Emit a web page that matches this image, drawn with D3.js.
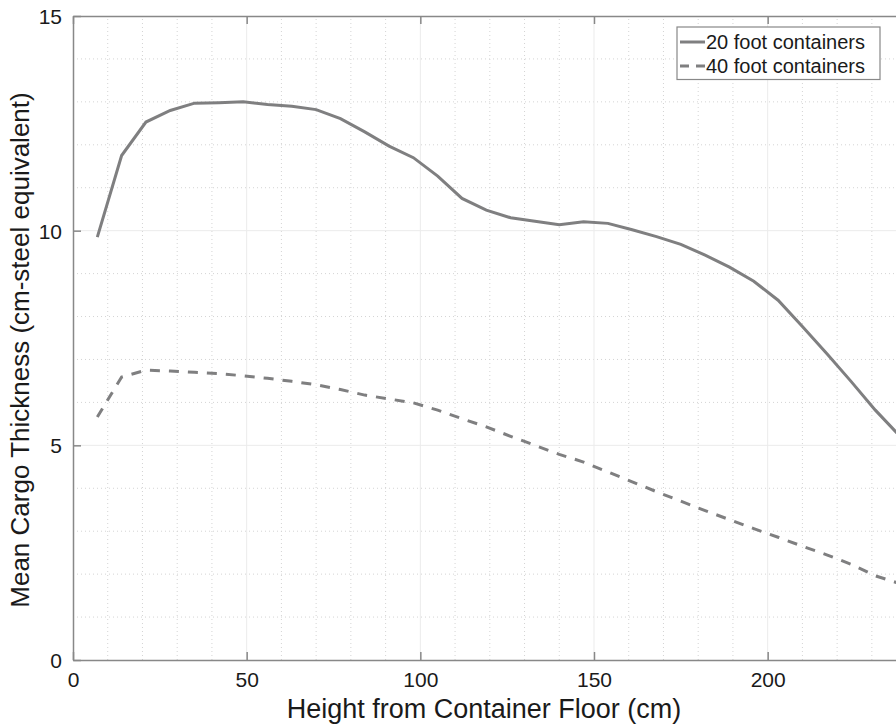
<!DOCTYPE html>
<html>
<head>
<meta charset="utf-8">
<script src="https://cdn.jsdelivr.net/npm/d3@7"></script>
<style>
  body { margin: 0; background: #fff; }
  svg text { font-family: Helvetica, "Liberation Sans", Arial, sans-serif; fill: #1a1a1a; }
</style>
</head>
<body>
<div id="chart"></div>
<script>
// height from container floor (cm)
const heights = [7, 14, 21, 28, 35, 42, 49, 56, 63, 70, 77, 84, 91, 98, 105, 112, 119,
    126, 133, 140, 147, 154, 161, 168, 175, 182, 189, 196, 203, 210, 217, 224, 231, 238];

// mean cargo thickness (cm-steel equivalent)
const feet20 = [9.85, 11.75, 12.53, 12.80, 12.97, 12.98, 13.0, 12.94, 12.90, 12.82, 12.61, 12.30,
    11.97, 11.70, 11.27, 10.75, 10.48, 10.30, 10.22, 10.14, 10.21, 10.17, 10.02, 9.86,
    9.68, 9.43, 9.15, 8.82, 8.38, 7.77, 7.14, 6.49, 5.82, 5.22];
const feet40 = [5.66, 6.59, 6.75, 6.73, 6.70, 6.67, 6.62, 6.56, 6.49, 6.41, 6.30, 6.17,
    6.08, 5.99, 5.82, 5.62, 5.43, 5.21, 5.00, 4.79, 4.61, 4.38, 4.15, 3.92,
    3.70, 3.48, 3.27, 3.06, 2.86, 2.65, 2.45, 2.23, 1.96, 1.78];

const xTicks = [0, 50, 100, 150, 200];
const yTicks = [0, 5, 10, 15];
const seriesNames = ["20 foot containers", "40 foot containers"];

const width = 896, height = 727;
const margin = { top: 16, left: 73, bottom: 660 };

const svg = d3.select("#chart").append("svg")
    .attr("width", width).attr("height", height);

const x = d3.scaleLinear().domain([0, 240]).range([margin.left, 906.6]);
const y = d3.scaleLinear().domain([0, 15]).range([margin.bottom, margin.top]);

const axisColor = "#888888";

// minor grid (dotted)
svg.append("g").selectAll("line")
    .data(d3.range(0, 241, 10).filter(v => v % 50 !== 0))
    .join("line")
    .attr("x1", d => x(d)).attr("x2", d => x(d))
    .attr("y1", y(0)).attr("y2", y(15))
    .attr("stroke", "#d4d4d4").attr("stroke-width", 1).attr("stroke-dasharray", "1,3");
svg.append("g").selectAll("line")
    .data(d3.range(1, 15).filter(v => v % 5 !== 0))
    .join("line")
    .attr("x1", x(0)).attr("x2", width)
    .attr("y1", d => y(d)).attr("y2", d => y(d))
    .attr("stroke", "#d4d4d4").attr("stroke-width", 1).attr("stroke-dasharray", "1,3");

// major grid
svg.append("g").selectAll("line")
    .data(xTicks.slice(1))
    .join("line")
    .attr("x1", d => x(d)).attr("x2", d => x(d))
    .attr("y1", y(0)).attr("y2", y(15))
    .attr("stroke", "#ebebeb").attr("stroke-width", 1);
svg.append("g").selectAll("line")
    .data(yTicks.slice(1, -1))
    .join("line")
    .attr("x1", x(0)).attr("x2", width)
    .attr("y1", d => y(d)).attr("y2", d => y(d))
    .attr("stroke", "#ebebeb").attr("stroke-width", 1);

// axes
const xAxis = svg.append("g")
    .attr("transform", `translate(0,${margin.bottom})`)
    .call(d3.axisBottom(x).tickValues(xTicks).tickSizeInner(-8).tickSizeOuter(0).tickPadding(12));
const xTop = svg.append("g")
    .attr("transform", `translate(0,${margin.top})`)
    .call(d3.axisTop(x).tickValues(xTicks).tickSizeInner(-8).tickSizeOuter(0).tickFormat(""));
const yAxis = svg.append("g")
    .attr("transform", `translate(${margin.left},0)`)
    .call(d3.axisLeft(y).tickValues(yTicks).tickSizeInner(-8).tickSizeOuter(0).tickPadding(11));

[xAxis, xTop, yAxis].forEach(g => {
    g.select(".domain").attr("stroke", axisColor).attr("stroke-width", 1.5);
    g.selectAll(".tick line").attr("stroke", axisColor).attr("stroke-width", 1.5);
    g.selectAll(".tick text").attr("font-size", 21).attr("fill", "#1a1a1a")
        .style("font-family", "Helvetica, 'Liberation Sans', Arial, sans-serif");
});
yAxis.selectAll(".tick text").attr("dy", "0.36em");

// axis titles
svg.append("text")
    .attr("x", 484).attr("y", 718)
    .attr("text-anchor", "middle")
    .attr("font-size", 27)
    .text("Height from Container Floor (cm)");
svg.append("text")
    .attr("transform", `translate(29,350) rotate(-90)`)
    .attr("text-anchor", "middle")
    .attr("font-size", 26)
    .text("Mean Cargo Thickness (cm-steel equivalent)");

// lines
const line = d3.line().x(d => x(d[0])).y(d => y(d[1]));
const lineColor = "#7f7f80";

svg.append("path")
    .datum(heights.map((h, i) => [h, feet20[i]]))
    .attr("d", line)
    .attr("fill", "none").attr("stroke", lineColor).attr("stroke-width", 3);
svg.append("path")
    .datum(heights.map((h, i) => [h, feet40[i]]))
    .attr("d", line)
    .attr("fill", "none").attr("stroke", lineColor).attr("stroke-width", 3)
    .attr("stroke-dasharray", "10,9");

// legend
const legend = svg.append("g");
legend.append("rect")
    .attr("x", 677).attr("y", 27).attr("width", 203).attr("height", 52.5)
    .attr("fill", "#fff").attr("stroke", axisColor).attr("stroke-width", 1.2);
seriesNames.forEach((name, i) => {
    const cy = 42 + i * 24;
    legend.append("line")
        .attr("x1", 680).attr("x2", 705).attr("y1", cy).attr("y2", cy)
        .attr("stroke", lineColor).attr("stroke-width", 3)
        .attr("stroke-dasharray", i === 1 ? "9,7" : null);
    legend.append("text")
        .attr("x", 706).attr("y", cy)
        .attr("dy", "0.35em")
        .attr("font-size", 20)
        .text(name);
});
</script>
</body>
</html>
